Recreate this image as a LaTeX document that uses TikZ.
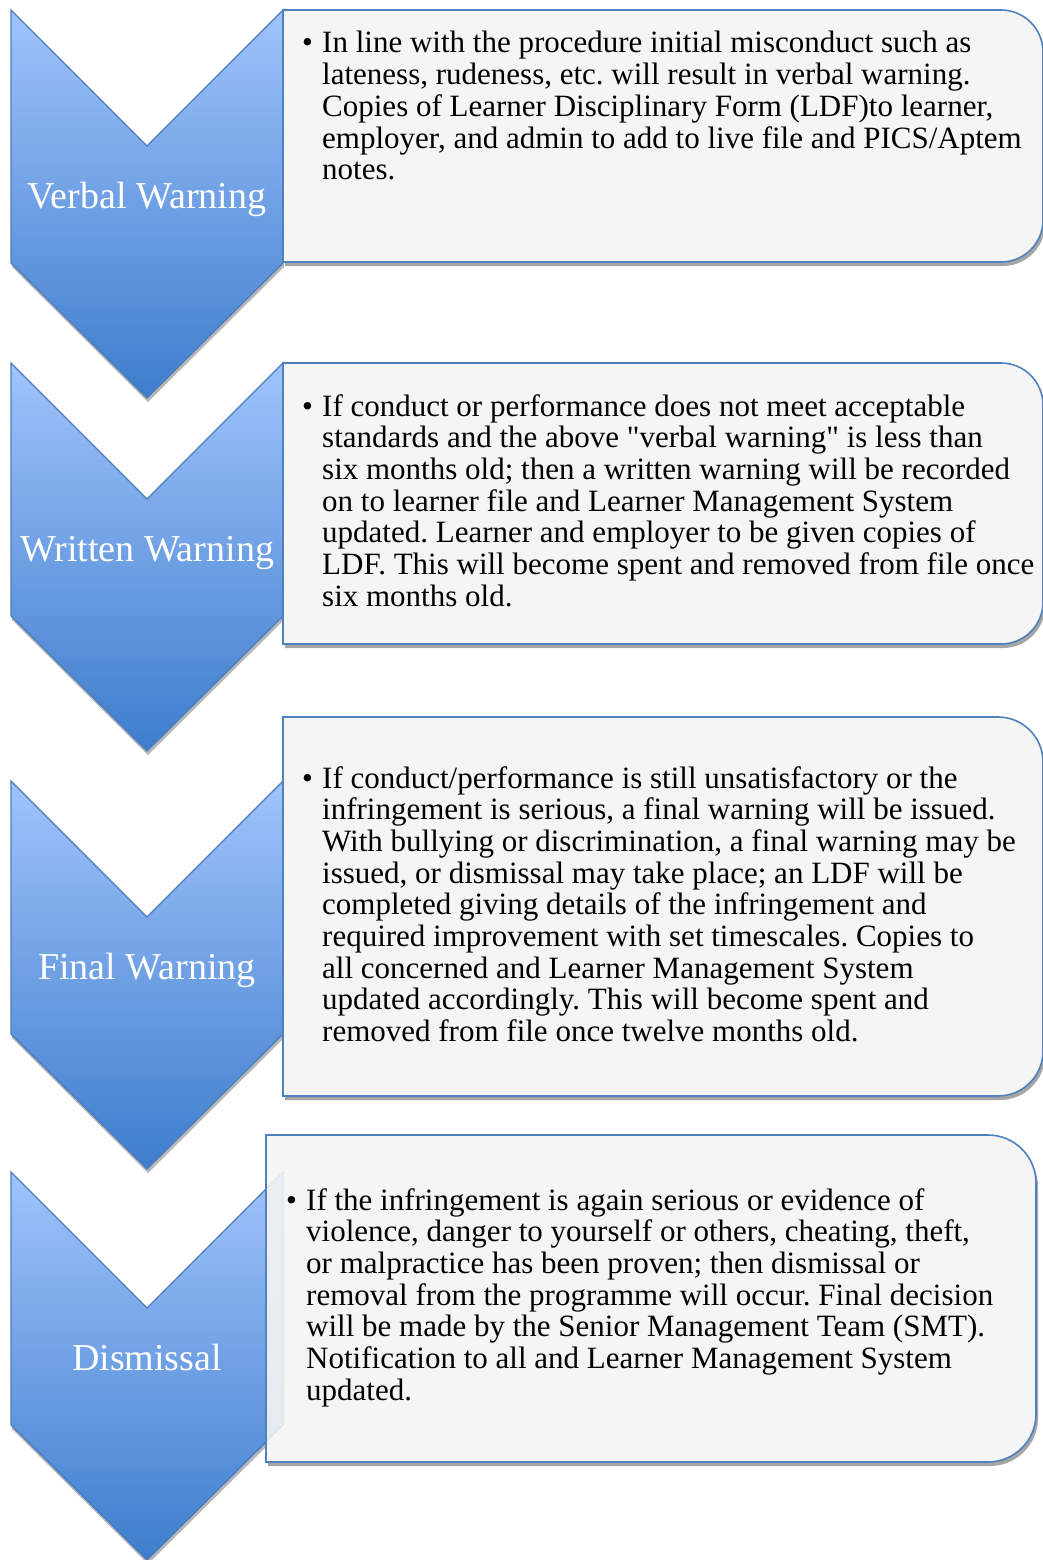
\documentclass[tikz,border=0pt]{standalone}
\usepackage{fontspec}
\setmainfont{Liberation Serif}
\usepackage{xcolor}
\usepackage{tikz}

\definecolor{chevtop}{RGB}{160,195,252}
\definecolor{chevbot}{RGB}{62,125,204}
\definecolor{chevedge}{RGB}{75,125,190}
\definecolor{boxfill}{RGB}{245,245,245}
\definecolor{boxedge}{RGB}{79,129,189}
\definecolor{shadowgrey}{RGB}{165,165,165}

\newcommand{\bulletpar}[1]{\parbox[t]{760pt}{\raggedright\frenchspacing\leftskip=20pt\hspace*{-20pt}\makebox[20pt][l]{\textbullet}#1}}

\tikzset{
  chevshape/.style={insert path={(11,#1) -- (147,#1+136) -- (283,#1) -- (283,#1+253) -- (147,#1+388) -- (11,#1+253) -- cycle}},
  boxshape/.style n args={5}{insert path={(#1,#2) -- (#3-#5,#2) arc[start angle=-90, end angle=0, radius=#5] -- (#3,#4-#5) arc[start angle=0, end angle=90, radius=#5] -- (#1,#4) -- cycle}},
  chev/.style={top color=chevtop, bottom color=chevbot, draw=chevedge, line width=1.3pt},
  chevshadow/.style={fill=shadowgrey, opacity=0.8, shift={(1,4)}},
  infobox/.style={fill=boxfill, draw=boxedge, line width=1.6pt},
  boxshadow/.style={fill=shadowgrey, shift={(2,4)}},
  steplabel/.style={anchor=base, text=white, font=\fontsize{38}{42}\selectfont},
  infotext/.style={anchor=base west, inner sep=0pt, font=\fontsize{31}{31.7}\selectfont},
}

\begin{document}
\begin{tikzpicture}[x=1pt, y=-1pt]
  \useasboundingbox (0,0) rectangle (1042,1560);

  % chevrons down the left side
  \foreach \t/\lab/\n in {10/Verbal Warning/1, 363/Written Warning/2, 781/Final Warning/3, 1172/Dismissal/4} {
    \path[chevshadow, chevshape=\t];
    \path[chev, chevshape=\t];
    \node[steplabel] (step\n) at (147,\t+198) {\lab};
  }

  % text boxes
  \foreach \l/\t/\r/\b/\rad in {283/10/1043/262/42, 283/363/1043/644/42, 283/717/1043/1096/45, 266/1135/1036/1462/48} {
    \path[boxshadow, boxshape={\l}{\t}{\r}{\b}{\rad}];
    \path[infobox, boxshape={\l}{\t}{\r}{\b}{\rad}];
  }
  \begin{scope}
    \clip[boxshape={266}{1135}{1036}{1462}{48}];
    \path[chev, opacity=0.1, chevshape=1172];
  \end{scope}

  \node[infotext] (note1) at (302,53) {\bulletpar{In line with the procedure initial misconduct such as\\
    lateness, rudeness, etc. will result in verbal warning.\\
    Copies of Learner Disciplinary Form (LDF)to learner,\\
    employer, and admin to add to live file and PICS/Aptem\\
    notes.}};
  \node[infotext] (note2) at (302,416) {\bulletpar{If conduct or performance does not meet acceptable\\
    standards and the above \textquotedbl verbal warning\textquotedbl{} is less than\\
    six months old; then a written warning will be recorded\\
    on to learner file and Learner Management System\\
    updated. Learner and employer to be given copies of\\
    LDF. This will become spent and removed from file once\\
    six months old.}};
  \node[infotext] (note3) at (302,788) {\bulletpar{If conduct/performance is still unsatisfactory or the\\
    infringement is serious, a final warning will be issued.\\
    With bullying or discrimination, a final warning may be\\
    issued, or dismissal may take place; an LDF will be\\
    completed giving details of the infringement and\\
    required improvement with set timescales. Copies to\\
    all concerned and Learner Management System\\
    updated accordingly. This will become spent and\\
    removed from file once twelve months old.}};
  \node[infotext] (note4) at (286,1210) {\bulletpar{If the infringement is again serious or evidence of\\
    violence, danger to yourself or others, cheating, theft,\\
    or malpractice has been proven; then dismissal or\\
    removal from the programme will occur. Final decision\\
    will be made by the Senior Management Team (SMT).\\
    Notification to all and Learner Management System\\
    updated.}};
\end{tikzpicture}
\end{document}
